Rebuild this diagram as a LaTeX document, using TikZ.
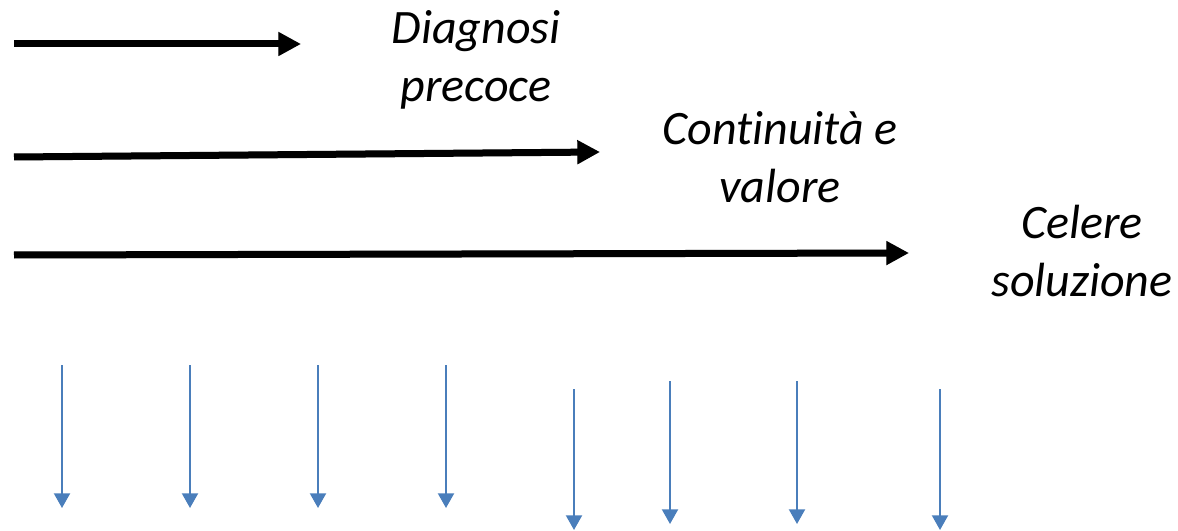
\documentclass[tikz,border=0pt]{standalone}
\usepackage{fontspec}
\setmainfont{Carlito}[Ligatures=NoCommon]
\usetikzlibrary{arrows.meta}
\definecolor{arrblue}{HTML}{4A7EBB}
\tikzset{
  bigarrow/.style={line width=5.25pt,-{Triangle[length=17pt,width=17pt]}},
  bigshadow/.style={bigarrow,draw=black,opacity=0.18,shift={(2,3)}},
  smallarrow/.style={line width=1.5pt,draw=arrblue,-{Triangle[length=11pt,width=12pt]}},
  lbl/.style={font=\fontsize{36}{43.5}\selectfont\itshape,align=center,inner sep=0pt}
}
\begin{document}
\begin{tikzpicture}[x=0.75pt,y=-0.75pt]
\useasboundingbox (0,0) rectangle (1178,531);
% black arrows
\coordinate (a1s) at (14,44); \coordinate (a1e) at (301,44);
\coordinate (a2s) at (14,157); \coordinate (a2e) at (600,152);
\coordinate (a3s) at (14,255); \coordinate (a3e) at (909,253);
\foreach \n in {1,2,3}{
  \draw[bigshadow] (a\n s) -- (a\n e);
  \draw[bigarrow] (a\n s) -- (a\n e);
}
% labels
\node[lbl] (t1) at (476,60) {Diagnosi\\precoce};
\node[lbl] (t2) at (780,157) {Cont\kern0pt inuità e\\valore};
\node[lbl] (t3) at (1082,251) {Celere\\soluzione};
% blue arrows
\coordinate (b1s) at (62,365);  \coordinate (b1e) at (62,508);
\coordinate (b2s) at (190,365); \coordinate (b2e) at (190,508);
\coordinate (b3s) at (318,365); \coordinate (b3e) at (318,508);
\coordinate (b4s) at (446,365); \coordinate (b4e) at (446,508);
\coordinate (b5s) at (574,389); \coordinate (b5e) at (574,530);
\coordinate (b6s) at (670,381); \coordinate (b6e) at (670,524);
\coordinate (b7s) at (797,381); \coordinate (b7e) at (797,524);
\coordinate (b8s) at (940,389); \coordinate (b8e) at (940,530);
\foreach \n in {1,...,8}{
  \draw[smallarrow] (b\n s) -- (b\n e);
}
\end{tikzpicture}
\end{document}
